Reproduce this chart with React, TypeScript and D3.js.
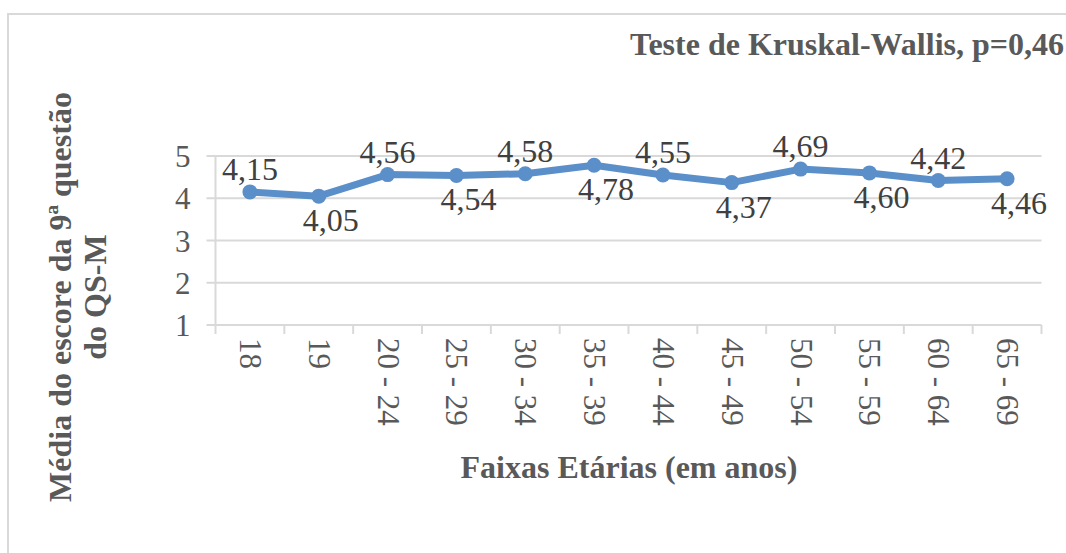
import React from "react";
import * as d3 from "d3";

const categories = ["18", "19", "20 - 24", "25 - 29", "30 - 34", "35 - 39", "40 - 44", "45 - 49", "50 - 54", "55 - 59", "60 - 64", "65 - 69"];
const means = [4.15, 4.05, 4.56, 4.54, 4.58, 4.78, 4.55, 4.37, 4.69, 4.60, 4.42, 4.46];
const yTicks = [1, 2, 3, 4, 5];
const chartTitle = "Teste de Kruskal-Wallis, p=0,46";
const xTitle = "Faixas Etárias (em anos)";
const yTitleLines = ["Média do escore da 9ª questão", "do QS-M"];

const W = 1066;
const H = 553;
const FONT = "'Liberation Serif', 'Times New Roman', serif";

export default function App() {
  const left = 215.5, right = 1041.5, top = 156, bottom = 325;
  const x = d3.scaleBand<string>().domain(categories).range([left, right]);
  const y = d3.scaleLinear().domain([1, 5]).range([bottom, top]);
  const cx = (c: string) => (x(c) as number) + x.bandwidth() / 2;
  const line = d3.line<number>().x((_, i) => cx(categories[i])).y((v) => y(v));
  const fmt = (v: number) => v.toFixed(2).replace(".", ",");
  const grid = "#d9d9d9";
  const txt = "#595959";
  const blue = "#5b8fc9";

  return (
    <svg width={W} height={H} style={{ position: "absolute", left: 0, top: 0, background: "#fff" }}>
      <rect x={8} y={14} width={W + 10} height={H} fill="#fff" stroke="#d9d9d9" strokeWidth={2} />
      <text x={1064} y={55} textAnchor="end" fontFamily={FONT} fontWeight="bold" fontSize={32} fill={txt}>
        {chartTitle}
      </text>
      {yTicks.map((t) => (
        <g key={t}>
          <line x1={left - 9} x2={right} y1={y(t)} y2={y(t)} stroke={grid} strokeWidth={2} />
          <text x={left - 25} y={y(t) + 11} textAnchor="end" fontFamily={FONT} fontSize={31} fill={txt}>
            {t}
          </text>
        </g>
      ))}
      <line x1={left} x2={left} y1={top} y2={bottom} stroke={grid} strokeWidth={2} />
      {categories.map((c, i) => (
        <line key={"t" + i} x1={x(c) as number} x2={x(c) as number} y1={bottom} y2={bottom + 9} stroke={grid} strokeWidth={2} />
      ))}
      <line x1={right} x2={right} y1={bottom} y2={bottom + 9} stroke={grid} strokeWidth={2} />
      {categories.map((c) => (
        <text
          key={"l" + c}
          transform={`translate(${cx(c) - 10},${bottom + 13}) rotate(90)`}
          fontFamily={FONT}
          fontSize={31}
          fill={txt}
        >
          {c}
        </text>
      ))}
      <path d={line(means) || ""} fill="none" stroke={blue} strokeWidth={7} strokeLinejoin="round" />
      {means.map((v, i) => (
        <circle key={"p" + i} cx={cx(categories[i])} cy={y(v)} r={7.5} fill={blue} />
      ))}
      {means.map((v, i) => (
        <text
          key={"v" + i}
          x={cx(categories[i]) + (i % 2 === 1 ? 12 : 0)}
          y={y(v) + (i % 2 === 1 ? 35 : -12)}
          textAnchor="middle"
          fontFamily={FONT}
          fontSize={32}
          fill="#404040"
        >
          {fmt(v)}
        </text>
      ))}
      <text x={629} y={478} textAnchor="middle" fontFamily={FONT} fontWeight="bold" fontSize={32} fill={txt}>
        {xTitle}
      </text>
      {yTitleLines.map((l, i) => (
        <text
          key={"y" + i}
          transform={`translate(${71 + i * 35},297) rotate(-90)`}
          textAnchor="middle"
          fontFamily={FONT}
          fontWeight="bold"
          fontSize={32}
          fill={txt}
        >
          {l}
        </text>
      ))}
    </svg>
  );
}
